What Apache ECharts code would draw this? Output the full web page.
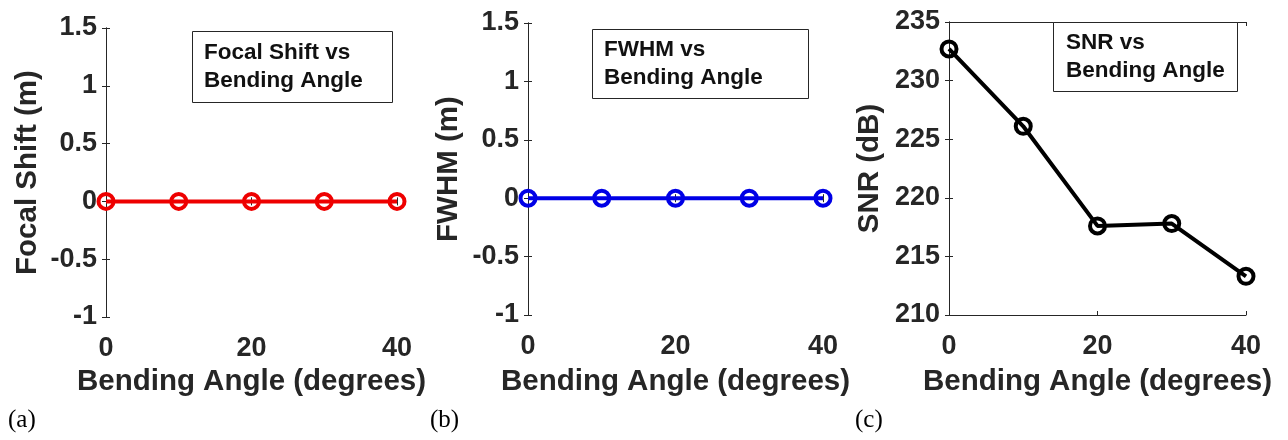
<!DOCTYPE html>
<html>
<head>
<meta charset="utf-8">
<script src="https://cdn.jsdelivr.net/npm/echarts@6/dist/echarts.min.js"></script>
<style>
  html, body { margin: 0; padding: 0; background: #ffffff; }
  #chart { width: 1288px; height: 440px; }
</style>
</head>
<body>
<div id="chart"></div>
<script>
// Bending angle sweep (degrees)
const angles = [0, 10, 20, 30, 40];
// Measured responses at each bending angle
const focalShift = [0, 0, 0, 0, 0];
const fwhm = [0, 0, 0, 0, 0];
const snr = [232.7, 226.1, 217.6, 217.8, 213.3];

// Axis ranges: [min, max, interval]
const angleRange = [0, 40, 20];
const focalRange = [-1, 1.5, 0.5];
const fwhmRange = [-1, 1.5, 0.5];
const snrRange = [210, 235, 5];

// Text
const xTitle = 'Bending Angle (degrees)';
const yTitles = ['Focal Shift (m)', 'FWHM (m)', 'SNR (dB)'];
const boxTexts = ['Focal Shift vs\nBending Angle', 'FWHM vs\nBending Angle', 'SNR vs\nBending Angle'];
const panelTags = ['(a)', '(b)', '(c)'];

const FONT = 'Liberation Sans, Arial, sans-serif';
const INK = '#262626';

const panels = [
  { grid: { left: 106, top: 28, width: 291, height: 289 }, range: focalRange, values: focalShift,
    color: '#ee0000', box: { left: 192, top: 31, pad: [8, 30, 8, 12] }, tagX: 8, yGap: 63, xGap: 50 },
  { grid: { left: 528, top: 23, width: 295, height: 292 }, range: fwhmRange, values: fwhm,
    color: '#0000e6', box: { left: 592, top: 29, pad: [7, 46, 7, 12] }, tagX: 430, yGap: 64, xGap: 52 },
  { grid: { left: 949, top: 22, width: 297, height: 293 }, range: snrRange, values: snr,
    color: '#000000', box: { left: 1053, top: 22, pad: [7, 13, 7, 13] }, tagX: 855, yGap: 64, xGap: 52 }
];

const grids = [], xAxes = [], yAxes = [], series = [], titles = [];

const tickLabel = { fontFamily: FONT, fontWeight: 'bold', fontSize: 27, color: INK };
const nameStyle = { fontFamily: FONT, fontWeight: 'bold', fontSize: 29.5, color: INK };
const frameLine = { show: true, lineStyle: { color: INK, width: 1 } };
const innerTick = { show: true, inside: true, length: 4, lineStyle: { color: INK, width: 1 } };

panels.forEach((p, i) => {
  grids.push(Object.assign({ containLabel: false }, p.grid));
  const xBase = { type: 'value', gridIndex: i, min: angleRange[0], max: angleRange[1],
    interval: angleRange[2], splitLine: { show: false }, axisLine: frameLine, axisTick: innerTick };
  xAxes.push(Object.assign({}, xBase, {
    position: 'bottom', name: xTitle, nameLocation: 'middle', nameGap: p.xGap, nameTextStyle: nameStyle,
    axisLabel: Object.assign({ margin: 18 }, tickLabel)
  }));
  xAxes.push(Object.assign({}, xBase, { position: 'top', axisLabel: { show: false } }));

  const yBase = { type: 'value', gridIndex: i, min: p.range[0], max: p.range[1], interval: p.range[2],
    splitLine: { show: false }, axisLine: frameLine, axisTick: innerTick };
  yAxes.push(Object.assign({}, yBase, {
    position: 'left', name: yTitles[i], nameLocation: 'middle', nameGap: p.yGap, nameTextStyle: nameStyle,
    axisLabel: Object.assign({ margin: 9 }, tickLabel)
  }));
  yAxes.push(Object.assign({}, yBase, { position: 'right', axisLabel: { show: false } }));

  series.push({
    type: 'line', xAxisIndex: 2 * i, yAxisIndex: 2 * i,
    data: angles.map((a, k) => [a, p.values[k]]),
    symbol: 'circle', symbolSize: 15, showSymbol: true, clip: false,
    lineStyle: { color: p.color, width: 4 },
    itemStyle: { color: 'rgba(0,0,0,0)', borderColor: p.color, borderWidth: 4 },
    emphasis: { disabled: true }, animation: false
  });

  titles.push({
    text: boxTexts[i], left: p.box.left, top: p.box.top, padding: p.box.pad,
    borderColor: INK, borderWidth: 1, backgroundColor: '#ffffff',
    textStyle: { fontFamily: FONT, fontWeight: 'bold', fontSize: 22.5, lineHeight: 28, color: '#111111' }
  });
  titles.push({
    text: panelTags[i], left: p.tagX, top: 408, padding: 0,
    textStyle: { fontFamily: 'Liberation Serif, Times New Roman, serif', fontWeight: 'normal', fontSize: 25, color: '#000000' }
  });
});

const chart = echarts.init(document.getElementById('chart'), null, { renderer: 'canvas' });
chart.setOption({
  animation: false,
  backgroundColor: '#ffffff',
  title: titles,
  grid: grids,
  xAxis: xAxes,
  yAxis: yAxes,
  series: series
});
</script>
</body>
</html>
